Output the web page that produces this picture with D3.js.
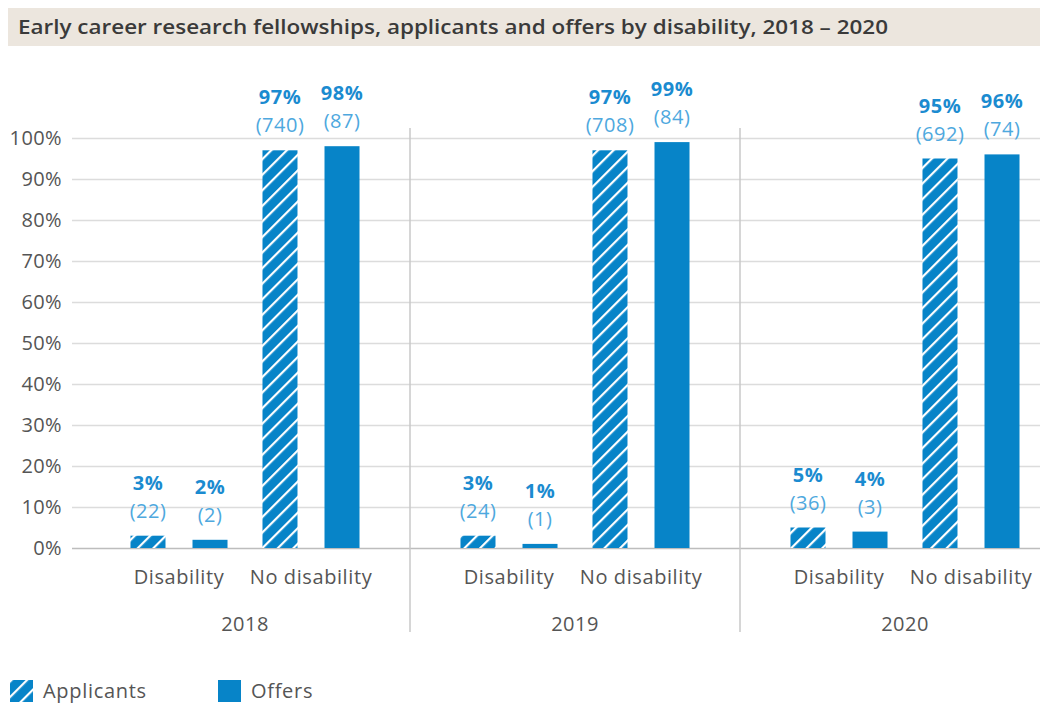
<!DOCTYPE html>
<html>
<head>
<meta charset="utf-8">
<script src="https://cdn.jsdelivr.net/npm/d3@7"></script>
<style>
  body { margin: 0; background: #fff; }
  svg { display: block; font-family: "Open Sans", sans-serif; }
</style>
</head>
<body>
<div class="chart"></div>
<script>
const WIDTH = 1040;
const HEIGHT = 705;

// data
const YEARS = ["2018", "2019", "2020"];
const GROUPS = ["Disability", "No disability"];
const SERIES = ["Applicants", "Offers"];
const PCT = {
  "2018": [[3, 2], [97, 98]],
  "2019": [[3, 1], [97, 99]],
  "2020": [[5, 4], [95, 96]]
};
const COUNTS = {
  "2018": [[22, 2], [740, 87]],
  "2019": [[24, 1], [708, 84]],
  "2020": [[36, 3], [692, 74]]
};
const Y_TICKS = [0, 10, 20, 30, 40, 50, 60, 70, 80, 90, 100];

const BLUE = "#0784c8";
const GREY = "#555";

const svg = d3.select(".chart").append("svg")
  .attr("width", WIDTH)
  .attr("height", HEIGHT);

// hatch pattern for applicants
const defs = svg.append("defs");
const pat = defs.append("pattern")
  .attr("id", "hatch")
  .attr("patternUnits", "userSpaceOnUse")
  .attr("width", 11)
  .attr("height", 11)
  .attr("patternTransform", "rotate(45)");
pat.append("rect").attr("width", 11).attr("height", 11).attr("fill", BLUE);
pat.append("rect").attr("x", 0).attr("width", 2.2).attr("height", 11).attr("fill", "#fff");

// title band
svg.append("rect")
  .attr("x", 8).attr("y", 8)
  .attr("width", WIDTH - 8).attr("height", 38)
  .attr("fill", "#ece6de");
svg.append("text")
  .attr("x", 18).attr("y", 34)
  .attr("font-size", 19)
  .attr("font-weight", 600)
  .attr("fill", "#3a3a3a")
  .attr("textLength", 870)
  .attr("lengthAdjust", "spacingAndGlyphs")
  .text("Early career research fellowships, applicants and offers by disability, 2018 \u2013 2020");

const Y = d3.scaleLinear().domain([0, 100]).range([548, 138]);

const X0 = d3.scaleBand().domain(YEARS).range([80, 1070]);
const X1 = d3.scaleBand().domain(GROUPS).range([0, X0.bandwidth()]).paddingOuter(0.25);
const X2 = d3.scaleBand().domain(SERIES).range([0, X1.bandwidth()])
  .paddingInner(0.4355).paddingOuter(0.282);

// y axis
const yAxis = svg.append("g")
  .attr("transform", "translate(72,0)")
  .call(d3.axisLeft(Y).tickValues(Y_TICKS).tickFormat(d => d + "%")
        .tickSize(-(WIDTH - 72)).tickPadding(10));
yAxis.select(".domain").remove();
yAxis.selectAll(".tick line")
  .attr("stroke", d => d === 0 ? "#bdbdbd" : "#dcdcdc")
  .attr("stroke-width", 1.3);
yAxis.selectAll(".tick text")
  .attr("font-size", 20)
  .attr("letter-spacing", 0.4)
  .attr("fill", GREY)
  .attr("font-family", "\"Open Sans\", sans-serif");

// group separators
svg.selectAll(".sep")
  .data(YEARS.slice(1))
  .join("line")
  .attr("class", "sep")
  .attr("x1", d => X0(d)).attr("x2", d => X0(d))
  .attr("y1", 128).attr("y2", 632)
  .attr("stroke", "#c8c8c8")
  .attr("stroke-width", 1.5);

// bars
const rows = [];
YEARS.forEach(yr => {
  GROUPS.forEach((g, gi) => {
    SERIES.forEach((s, si) => {
      rows.push({year: yr, group: g, series: s, pct: PCT[yr][gi][si], n: COUNTS[yr][gi][si]});
    });
  });
});

const barX = d => X0(d.year) + X1(d.group) + X2(d.series);

svg.selectAll(".bar")
  .data(rows)
  .join("rect")
  .attr("class", "bar")
  .attr("x", barX)
  .attr("width", X2.bandwidth())
  .attr("y", d => Y(d.pct))
  .attr("height", d => Y(0) - Y(d.pct))
  .attr("fill", d => d.series === "Applicants" ? "url(#hatch)" : BLUE);

svg.selectAll(".pct")
  .data(rows)
  .join("text")
  .attr("class", "pct")
  .attr("x", d => barX(d) + X2.bandwidth() / 2)
  .attr("y", d => Y(d.pct) - 46)
  .attr("text-anchor", "middle")
  .attr("font-size", 20)
  .attr("letter-spacing", 0.6)
  .attr("font-weight", 700)
  .attr("fill", "#1b8bd0")
  .text(d => d.pct + "%");

svg.selectAll(".cnt")
  .data(rows)
  .join("text")
  .attr("class", "cnt")
  .attr("x", d => barX(d) + X2.bandwidth() / 2)
  .attr("y", d => Y(d.pct) - 18)
  .attr("text-anchor", "middle")
  .attr("font-size", 20)
  .attr("letter-spacing", 0.5)
  .attr("fill", "#4ea8de")
  .text(d => "(" + d.n + ")");

// category labels
YEARS.forEach(yr => {
  svg.selectAll(".glab-" + yr)
    .data(GROUPS)
    .join("text")
    .attr("x", g => X0(yr) + X1(g) + X1.bandwidth() / 2)
    .attr("y", 584)
    .attr("text-anchor", "middle")
    .attr("font-size", 20)
    .attr("letter-spacing", 0.6)
    .attr("fill", GREY)
    .text(g => g);
});

svg.selectAll(".ylab")
  .data(YEARS)
  .join("text")
  .attr("class", "ylab")
  .attr("x", d => X0(d) + X0.bandwidth() / 2)
  .attr("y", 631)
  .attr("text-anchor", "middle")
  .attr("font-size", 20)
  .attr("letter-spacing", 0.5)
  .attr("fill", GREY)
  .text(d => d);

// legend
const legend = svg.selectAll(".leg")
  .data(SERIES)
  .join("g")
  .attr("class", "leg")
  .attr("transform", (d, i) => "translate(" + (10 + i * 208) + ",680)");
legend.append("rect")
  .attr("width", 23).attr("height", 22)
  .attr("fill", d => d === "Applicants" ? "url(#hatch)" : BLUE);
legend.append("text")
  .attr("x", 33).attr("y", 18)
  .attr("font-size", 20)
  .attr("letter-spacing", 0.7)
  .attr("fill", GREY)
  .text(d => d);
</script>
</body>
</html>
